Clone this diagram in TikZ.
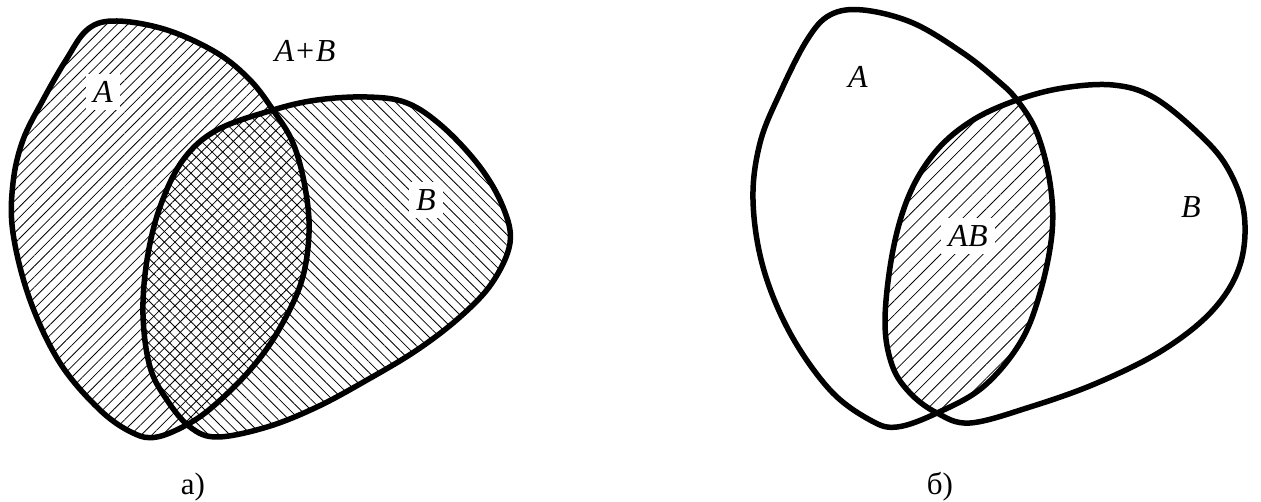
\documentclass[tikz,border=0pt]{standalone}
\usepackage{fontspec}
\setmainfont{Liberation Serif}
\usetikzlibrary{patterns.meta}
\newcommand\pathAL{plot[smooth cycle, tension=0.6] coordinates {(88,29) (117,21) (167,30) (217,53) (250,80) (273,110) (293,143) (305,187) (309,233) (301,283) (277,333) (250,370) (217,403) (190,423) (157,437) (133,433) (100,410) (60,363) (30,300) (13,233) (13,183) (23,140) (43,100) (66,60)}}
\newcommand\pathBL{plot[smooth cycle, tension=0.6] coordinates {(143,315) (147,260) (160,207) (183,160) (217,130) (273,110) (317,100) (367,97) (407,103) (443,127) (480,167) (503,207) (510,243) (492,283) (460,317) (417,350) (367,380) (317,407) (267,427) (217,437) (190,427) (167,400) (150,367)}}
\newcommand\pathAR{plot[smooth cycle, tension=0.6] coordinates {(830,15) (863,10) (913,23) (963,53) (997,80) (1017,100) (1037,133) (1050,183) (1052,233) (1040,293) (1020,343) (983,387) (937,413) (897,427) (870,420) (830,390) (790,333) (763,267) (753,200) (760,143) (780,93) (807,40)}}
\newcommand\pathBR{plot[smooth cycle, tension=0.6] coordinates {(885,320) (893,250) (910,193) (937,150) (973,120) (1017,100) (1063,88) (1113,85) (1153,97) (1197,132) (1227,167) (1244,213) (1240,265) (1213,310) (1163,350) (1097,383) (1030,407) (970,423) (937,413) (910,393) (892,365)}}
\begin{document}
\begin{tikzpicture}[x=1pt,y=-1pt,
  outline/.style={line width=5.5pt, line join=round},
  hatchne/.style={pattern={Lines[angle=45,distance=7.5pt,line width=0.8pt]}},
  hatchnw/.style={pattern={Lines[angle=-45,distance=7.5pt,line width=0.8pt]}},
  hatchwide/.style={pattern={Lines[angle=45,distance=10pt,line width=0.8pt]}},
  lbl/.style={font=\fontsize{32}{36}\selectfont\itshape, inner sep=7pt},
  knock/.style={lbl, fill=white},
  caption/.style={font=\fontsize{31}{34}\selectfont, inner sep=0pt}]
\useasboundingbox[fill=white] (0,0) rectangle (1261,502);
% left panel: union
\fill[hatchne] \pathAL;
\fill[hatchnw] \pathBL;
\node[knock] (labAL) at (103,92) {A};
\node[knock] (labBL) at (426,200) {B};
\node[lbl] (labAB) at (305,51) {A+B};
\draw[outline] \pathAL;
\draw[outline] \pathBL;
\node[caption] (capa) at (193,487) {а)};
% right panel: intersection
\begin{scope}
  \clip \pathAR;
  \fill[hatchwide] \pathBR;
\end{scope}
\node[knock] (labABr) at (968,236) {AB};
\node[lbl] (labAR) at (858,77) {A};
\node[lbl] (labBR) at (1191,207) {B};
\draw[outline] \pathAR;
\draw[outline] \pathBR;
\node[caption] (capb) at (940,487) {б)};
\end{tikzpicture}
\end{document}
